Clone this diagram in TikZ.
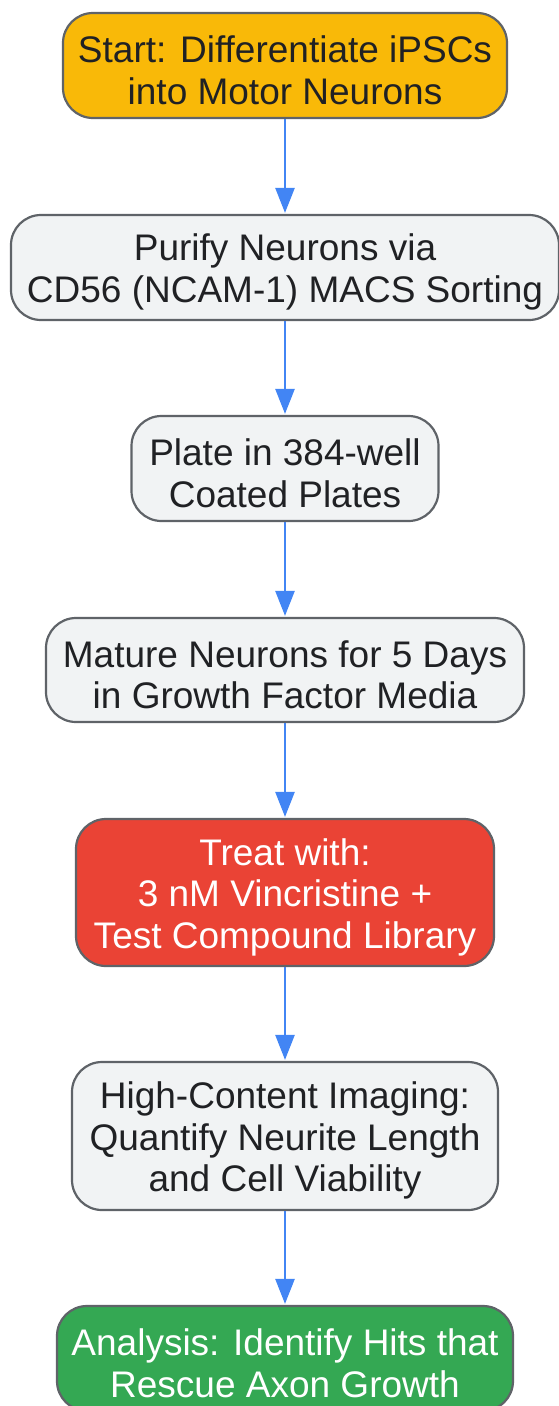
\documentclass[tikz,border=0pt]{standalone}
\usepackage{fontspec}
\setmainfont{Liberation Sans}
\usetikzlibrary{arrows.meta}
\definecolor{bordergrey}{HTML}{5F6368}
\definecolor{boxgrey}{HTML}{F1F3F4}
\definecolor{startyellow}{HTML}{F9B908}
\definecolor{treatred}{HTML}{EA4335}
\definecolor{endgreen}{HTML}{34A853}
\definecolor{arrowblue}{HTML}{4285F4}
\definecolor{textdark}{HTML}{202124}
\newcommand{\toppad}{\rule{0pt}{36pt}}
\tikzset{
  flowbox/.style={draw=bordergrey, line width=2.2pt, rounded corners=30pt,
    align=center, inner sep=0pt, text=textdark,
    font=\fontsize{37}{41.5}\selectfont},
  greybox/.style={flowbox, fill=boxgrey},
  flowarrow/.style={draw=arrowblue, line width=2.6pt,
    -{Triangle[length=25pt,width=19pt]}, shorten >=1pt}
}
\begin{document}
\begin{tikzpicture}[x=1pt,y=-1pt]
\useasboundingbox (0,0) rectangle (559,1406);
\node[flowbox, fill=startyellow, minimum width=444pt, minimum height=105pt] (n1) at (285,65.5) {\toppad Start: Differentiate iPSCs\\into Motor Neurons};
\node[greybox, minimum width=548pt, minimum height=105pt] (n2) at (285,267.5) {\toppad Purify Neurons via\\CD56 (NCAM-1) MACS Sorting};
\node[greybox, minimum width=307pt, minimum height=105pt] (n3) at (285,468.5) {\toppad Plate in 384-well\\Coated Plates};
\node[greybox, minimum width=478pt, minimum height=104pt] (n4) at (285,670) {\toppad Mature Neurons for 5 Days\\in Growth Factor Media};
\node[flowbox, fill=treatred, text=white, minimum width=418pt, minimum height=147pt] (n5) at (285,892.5) {\toppad Treat with:\\3 nM Vincristine +\\Test Compound Library};
\node[greybox, minimum width=426pt, minimum height=148pt] (n6) at (285,1136) {\toppad High-Content Imaging:\\Quantify Neurite Length\\and Cell Viability};
\node[flowbox, fill=endgreen, text=white, minimum width=456pt, minimum height=105pt] (n7) at (285,1358.5) {\toppad Analysis: Identify Hits that\\Rescue Axon Growth};
\draw[flowarrow] (n1) -- (n2);
\draw[flowarrow] (n2) -- (n3);
\draw[flowarrow] (n3) -- (n4);
\draw[flowarrow] (n4) -- (n5);
\draw[flowarrow] (n5) -- (n6);
\draw[flowarrow] (n6) -- (n7);
\end{tikzpicture}
\end{document}
